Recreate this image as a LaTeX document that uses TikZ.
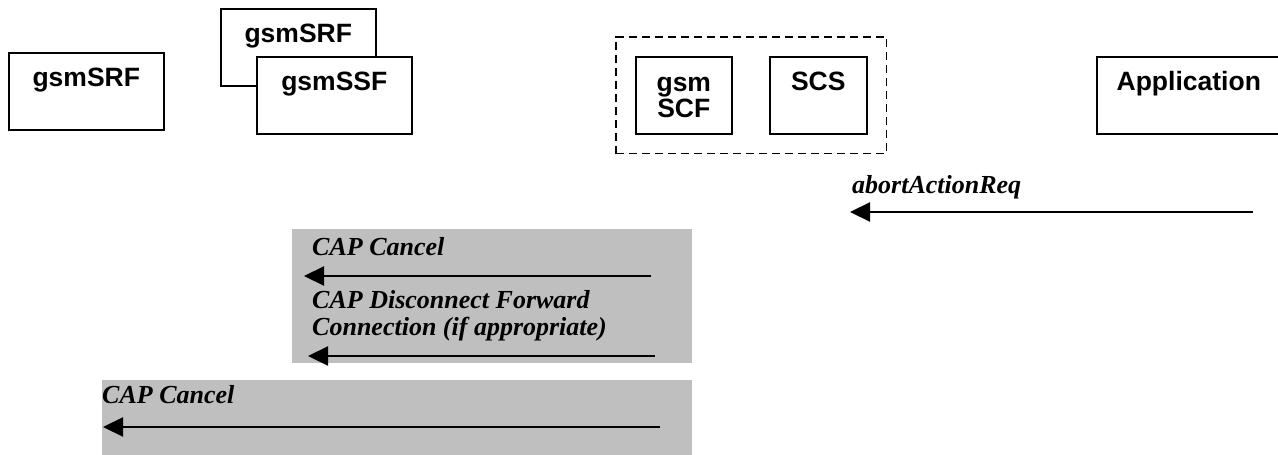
\documentclass[tikz,border=0pt]{standalone}
\usepackage{fontspec}
\setmainfont{Liberation Serif}
\setsansfont{Liberation Sans}
\usetikzlibrary{arrows.meta,fit}

\begin{document}
\begin{tikzpicture}[x=1pt,y=-1pt]

\useasboundingbox (0,0) rectangle (1278,455);

\tikzstyle{entity}=[rectangle,draw=black,line width=1.6pt,fill=white,anchor=north west,inner sep=0pt,text height=34pt,text depth=43pt,align=center,font=\sffamily\bfseries\fontsize{26.5}{26}\selectfont]
\tikzstyle{wideEntity}=[entity, minimum width=155pt];
\tikzstyle{narrowEntity}=[entity, minimum width=96pt];
\tikzstyle{groupBox}=[rectangle,draw=black,line width=1.6pt,dash pattern=on 8pt off 5pt,inner sep=19pt];
\tikzstyle{shadeBox}=[rectangle,fill=black!25,anchor=north west,inner sep=0pt];
\tikzstyle{msgLabel}=[anchor=west,inner sep=0pt,align=left,font=\bfseries\itshape\fontsize{26}{27}\selectfont];
\tikzstyle{msgArrow}=[line width=2.2pt,-{Triangle[length=20pt,width=19pt]}];

%shaded phases
\node[shadeBox,minimum width=400pt,minimum height=134pt] (phaseOne) at (292,229) {};
\node[shadeBox,minimum width=590pt,minimum height=80pt] (phaseTwo) at (102,380) {};

%entities
\node[wideEntity] (srf) at (8,52) {gsmSRF};
\node[wideEntity] (srfBack) at (220,8) {gsmSRF};
\node[wideEntity] (ssf) at (256,56) {gsmSSF};
\node[narrowEntity,text height=61pt,text depth=16pt] (scf) at (635,56) {gsm\\SCF};
\node[narrowEntity,minimum width=97pt] (scs) at (769,56) {SCS};
\node[entity,minimum width=184pt] (app) at (1096,56) {Application};
\node[groupBox,fit=(scf)(scs)] (gateway) {};

%message ends
\coordinate (abortFrom) at (1253,212);
\coordinate (abortTo) at (850,212);
\coordinate (cancelFrom) at (651,276);
\coordinate (cancelTo) at (304,276);
\coordinate (dfcFrom) at (655,356);
\coordinate (dfcTo) at (308,356);
\coordinate (cancelSrfFrom) at (660,427);
\coordinate (cancelSrfTo) at (103,427);

%messages
\node[msgLabel] (abortLabel) at (852,187) {abortActionReq};
\draw[msgArrow] (abortFrom) -- (abortTo);

\node[msgLabel] (cancelLabel) at (312,247) {CAP Cancel};
\draw[msgArrow] (cancelFrom) -- (cancelTo);

\node[msgLabel] (dfcLabel) at (312,316) {CAP Disconnect Forward\\Connection (if appropriate)};
\draw[msgArrow] (dfcFrom) -- (dfcTo);

\node[msgLabel] (cancelSrfLabel) at (102,395) {CAP Cancel};
\draw[msgArrow] (cancelSrfFrom) -- (cancelSrfTo);

\end{tikzpicture}
\end{document}
